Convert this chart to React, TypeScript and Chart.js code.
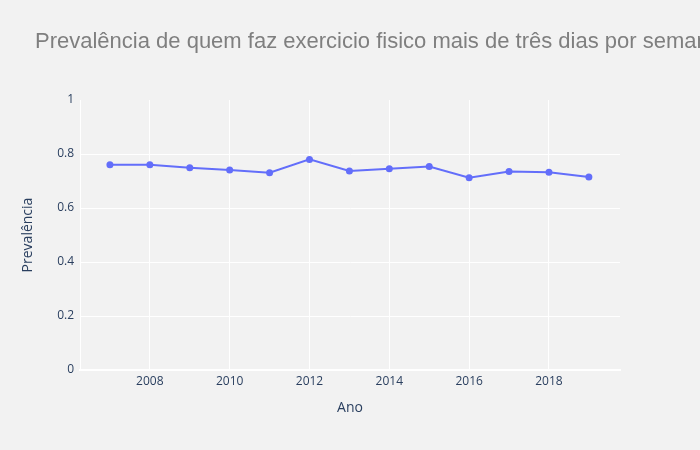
import React, { useEffect, useRef } from "react";
import { Chart, registerables } from "chart.js";

Chart.register(...registerables);

const years = [2007, 2008, 2009, 2010, 2011, 2012, 2013, 2014, 2015, 2016, 2017, 2018, 2019];
const prevalence = [0.760, 0.760, 0.749, 0.741, 0.731, 0.780, 0.737, 0.745, 0.754, 0.712, 0.735, 0.732, 0.715];
const xTicks = [2008, 2010, 2012, 2014, 2016, 2018];
const yTicks = [0, 0.2, 0.4, 0.6, 0.8, 1];
const chartTitle = "Prevalência de quem faz exercicio fisico mais de três dias por semana";
const xTitle = "Ano";
const yTitle = "Prevalência";

const BG = "#f2f2f2";
const TICK_COLOR = "#2a3f5f";

const bgPlugin = {
  id: "bgFill",
  beforeDraw(chart: any) {
    const { ctx, width, height } = chart;
    ctx.save();
    ctx.fillStyle = BG;
    ctx.fillRect(0, 0, width, height);
    ctx.restore();
  },
};

// let the title run past the plot's right edge (unsqueezed), as in the reference
const wideTitlePlugin = {
  id: "wideTitle",
  afterLayout(chart: any) {
    const tb = chart.titleBlock;
    if (tb) tb.right = tb.left + 3000;
  },
};

export default function App() {
  const ref = useRef<HTMLCanvasElement | null>(null);

  useEffect(() => {
    document.body.style.margin = "0";
    document.body.style.background = BG;
    const canvas = ref.current;
    if (!canvas) return;
    const chart = new Chart(canvas, {
      type: "line",
      data: {
        datasets: [
          {
            data: years.map((y, i) => ({ x: y, y: prevalence[i] })),
            borderColor: "#636efa",
            backgroundColor: "#636efa",
            borderWidth: 2,
            pointRadius: 3.5,
            pointBorderWidth: 0,
            tension: 0,
          },
        ],
      },
      options: {
        responsive: false,
        animation: false,
        layout: { padding: { left: 35, right: 80, top: 0, bottom: 0 } },
        plugins: {
          legend: { display: false },
          tooltip: { enabled: false },
          title: {
            display: true,
            text: chartTitle,
            align: "start",
            color: "#7f7f7f",
            font: { family: "'Liberation Sans', Arial, sans-serif", size: 22, weight: "normal" },
            padding: { top: 29, bottom: 44.6 },
          },
        },
        scales: {
          x: {
            type: "linear",
            min: 2006.25,
            max: 2019.78,
            afterBuildTicks(scale: any) {
              scale.ticks = xTicks.map((v) => ({ value: v }));
            },
            afterFit(scale: any) {
              scale.height = 80;
            },
            grid: {
              color: "#ffffff",
              lineWidth: 1,
              drawTicks: false,
            },
            border: { color: "#ffffff", width: 2 },
            ticks: {
              color: TICK_COLOR,
              padding: 4,
              maxRotation: 0,
              font: { family: "'Open Sans', sans-serif", size: 12 },
              callback: (v: any) => String(v),
            },
            title: {
              display: true,
              text: xTitle,
              color: TICK_COLOR,
              font: { family: "'Open Sans', sans-serif", size: 14 },
              padding: { top: 0, bottom: 33.6 },
            },
          },
          y: {
            min: 0,
            max: 1,
            afterBuildTicks(scale: any) {
              scale.ticks = yTicks.map((v) => ({ value: v }));
            },
            afterFit(scale: any) {
              scale.width = 45;
            },
            grid: {
              color: (c: any) => (c.tick && c.tick.value === 1 ? "rgba(0,0,0,0)" : "#ffffff"),
              lineWidth: 1,
              drawTicks: false,
            },
            border: { color: "#ffffff", width: 1 },
            ticks: {
              color: TICK_COLOR,
              padding: 6,
              font: { family: "'Open Sans', sans-serif", size: 12 },
              callback: (v: any) => String(v),
            },
            title: {
              display: true,
              text: yTitle,
              color: TICK_COLOR,
              font: { family: "'Open Sans', sans-serif", size: 14 },
              padding: { top: -15.4, bottom: 0 },
            },
          },
        },
      },
      plugins: [bgPlugin, wideTitlePlugin],
    });
    return () => chart.destroy();
  }, []);

  return (
    <div style={{ position: "absolute", left: 0, top: 0, width: 700, height: 450, background: BG }}>
      <canvas ref={ref} width={700} height={450} style={{ display: "block" }} />
    </div>
  );
}
